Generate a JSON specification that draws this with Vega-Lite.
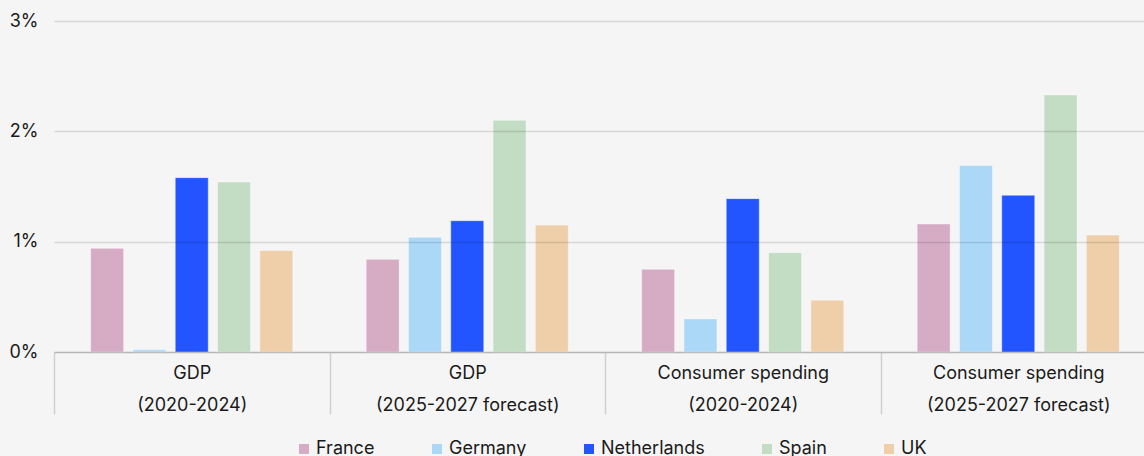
{
  "$schema": "https://vega.github.io/schema/vega-lite/v6.json",
  "width": 1090,
  "height": 331,
  "autosize": {"type": "none"},
  "padding": {"left": 54, "top": 21, "right": 0, "bottom": 104},
  "background": "#f5f5f5",
  "config": {
    "view": {"stroke": null},
    "font": "Inter",
    "text": {"font": "Inter"}
  },
  "data": {
    "values": [
      {"group": "GDP|(2020-2024)", "country": "France", "value": 0.94},
      {"group": "GDP|(2020-2024)", "country": "Germany", "value": 0.02},
      {"group": "GDP|(2020-2024)", "country": "Netherlands", "value": 1.58},
      {"group": "GDP|(2020-2024)", "country": "Spain", "value": 1.54},
      {"group": "GDP|(2020-2024)", "country": "UK", "value": 0.92},
      {"group": "GDP|(2025-2027 forecast)", "country": "France", "value": 0.84},
      {"group": "GDP|(2025-2027 forecast)", "country": "Germany", "value": 1.04},
      {"group": "GDP|(2025-2027 forecast)", "country": "Netherlands", "value": 1.19},
      {"group": "GDP|(2025-2027 forecast)", "country": "Spain", "value": 2.1},
      {"group": "GDP|(2025-2027 forecast)", "country": "UK", "value": 1.15},
      {"group": "Consumer spending|(2020-2024)", "country": "France", "value": 0.75},
      {"group": "Consumer spending|(2020-2024)", "country": "Germany", "value": 0.3},
      {"group": "Consumer spending|(2020-2024)", "country": "Netherlands", "value": 1.39},
      {"group": "Consumer spending|(2020-2024)", "country": "Spain", "value": 0.9},
      {"group": "Consumer spending|(2020-2024)", "country": "UK", "value": 0.47},
      {"group": "Consumer spending|(2025-2027 forecast)", "country": "France", "value": 1.16},
      {"group": "Consumer spending|(2025-2027 forecast)", "country": "Germany", "value": 1.69},
      {"group": "Consumer spending|(2025-2027 forecast)", "country": "Netherlands", "value": 1.42},
      {"group": "Consumer spending|(2025-2027 forecast)", "country": "Spain", "value": 2.33},
      {"group": "Consumer spending|(2025-2027 forecast)", "country": "UK", "value": 1.06}
    ]
  },
  "mark": {"type": "bar", "stroke": "#ffffff", "strokeWidth": 1, "strokeOpacity": 0.4},
  "encoding": {
    "x": {
      "field": "group",
      "type": "nominal",
      "sort": null,
      "scale": {"paddingInner": 0, "paddingOuter": 0, "range": [0, 1102]},
      "axis": {
        "title": null,
        "labelAngle": 0,
        "labelExpr": "split(datum.label, '|')",
        "labelFontSize": 18,
        "labelColor": "#1a1a1a",
        "labelLineHeight": 32,
        "labelBaseline": "top",
        "labelPadding": -50,
        "labelLimit": 300,
        "tickBand": "extent",
        "tickSize": 62,
        "tickColor": "#d0d0d0",
        "tickWidth": 1.5,
        "domainColor": "#d0d0d0",
        "domainWidth": 1.5
      }
    },
    "xOffset": {
      "field": "country",
      "type": "nominal",
      "scale": {"paddingInner": 0.22, "paddingOuter": 0.867}
    },
    "y": {
      "field": "value",
      "type": "quantitative",
      "scale": {"domain": [0, 3], "nice": false},
      "axis": {
        "title": null,
        "values": [0, 1, 2, 3],
        "labelExpr": "datum.value + '%'",
        "labelFontSize": 18,
        "labelColor": "#1a1a1a",
        "labelPadding": 16,
        "domain": false,
        "ticks": false,
        "gridColor": "#000000",
        "gridOpacity": 0.12,
        "gridWidth": 1.5,
        "zindex": 1
      }
    },
    "color": {
      "field": "country",
      "type": "nominal",
      "scale": {
        "domain": ["France", "Germany", "Netherlands", "Spain", "UK"],
        "range": ["#d6acc5", "#acd8f8", "#2255ff", "#c2ddc4", "#efcfa9"]
      },
      "legend": {
        "title": null,
        "orient": "none",
        "legendX": 241,
        "legendY": 419,
        "direction": "horizontal",
        "symbolType": "square",
        "symbolSize": 100,
        "symbolStrokeWidth": 0,
        "labelFontSize": 18,
        "labelColor": "#1a1a1a",
        "labelOffset": 3,
        "columnPadding": 53
      }
    }
  }
}
